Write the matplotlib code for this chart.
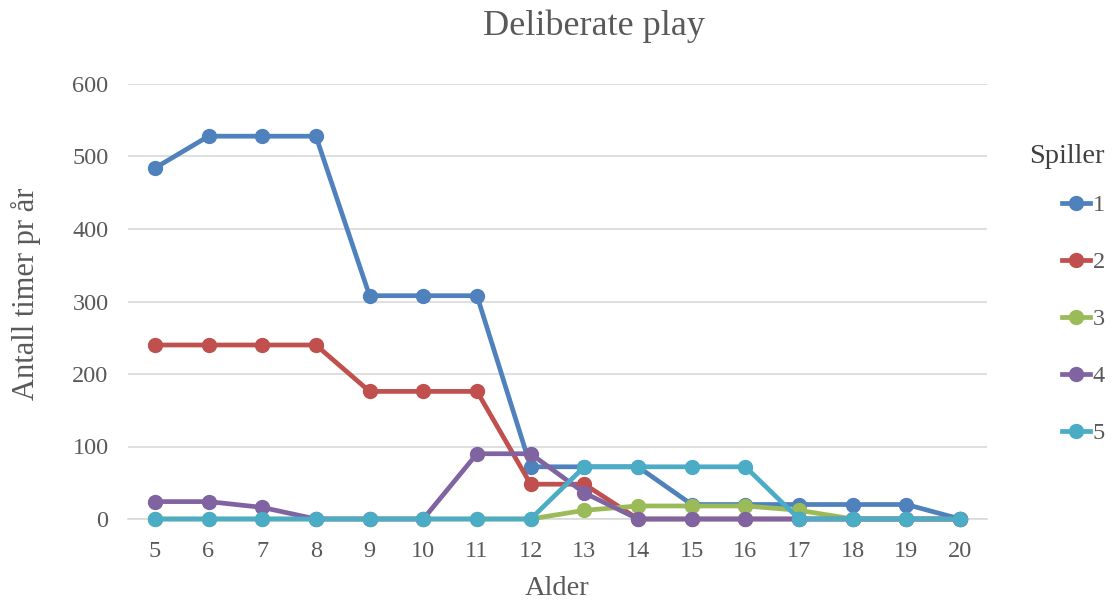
import matplotlib.pyplot as plt

plt.rcParams['font.family'] = ['Liberation Serif', 'DejaVu Serif']

alder = list(range(5, 21))
spiller1 = [484, 528, 528, 528, 308, 308, 308, 72, 72, 72, 20, 20, 20, 20, 20, 0]
spiller2 = [240, 240, 240, 240, 176, 176, 176, 48, 48, 0, 0, 0, 0, 0, 0, 0]
spiller3 = [0, 0, 0, 0, 0, 0, 0, 0, 12, 18, 18, 18, 12, 0, 0, 0]
spiller4 = [24, 24, 16, 0, 0, 0, 90, 90, 36, 0, 0, 0, 0, 0, 0, 0]
spiller5 = [0, 0, 0, 0, 0, 0, 0, 0, 72, 72, 72, 72, 0, 0, 0, 0]
names = ['1', '2', '3', '4', '5']
colors = ['#4F81BD', '#C0504D', '#9BBB59', '#8064A2', '#4BACC6']

grey = '#595959'
fig = plt.figure(figsize=(11.12, 6.02), dpi=100)
ax = fig.add_axes([128 / 1112, 1 - 519 / 602, (987 - 128) / 1112, (519 - 84) / 602])

for ys, n, c in zip([spiller1, spiller2, spiller3, spiller4, spiller5], names, colors):
    ax.plot(alder, ys, 'o-', color=c, lw=3.4, ms=10, label=n,
            solid_joinstyle='round', clip_on=False)

ax.set_xlim(4.5, 20.5)
ax.set_ylim(0, 600)
ax.set_yticks(range(0, 601, 100))
ax.set_xticks(alder)
ax.grid(axis='y', color='#D9D9D9', lw=1.2)
ax.set_axisbelow(True)
for s in ['top', 'right', 'left']:
    ax.spines[s].set_visible(False)
ax.spines['bottom'].set_color('#D9D9D9')
ax.spines['bottom'].set_linewidth(1.2)
ax.spines['bottom'].set_zorder(0.5)
ax.tick_params(length=0, labelsize=17.5, colors=grey)
ax.tick_params(axis='y', pad=14)
ax.tick_params(axis='x', pad=16)

ax.set_xlabel('Alder', fontsize=20.5, color=grey, labelpad=10)
ax.set_ylabel('Antall timer pr år', fontsize=22, color=grey)
ax.yaxis.set_label_coords(-0.101, 0.518)
fig.text(594 / 1112, 1 - 26 / 602, 'Deliberate play', fontsize=26, color=grey,
         ha='center', va='center')

leg = ax.legend(title='Spiller', loc='upper left', bbox_to_anchor=(1.035, 0.890),
                frameon=False, fontsize=17.5, title_fontsize=20.5, labelspacing=1.44,
                handlelength=1.15, handletextpad=0.12, borderpad=0, alignment='right')
leg._legend_box.sep = 18
for t in leg.get_texts():
    t.set_color(grey)
leg.get_title().set_color('#404040')

fig.savefig('out.png', dpi=100)
